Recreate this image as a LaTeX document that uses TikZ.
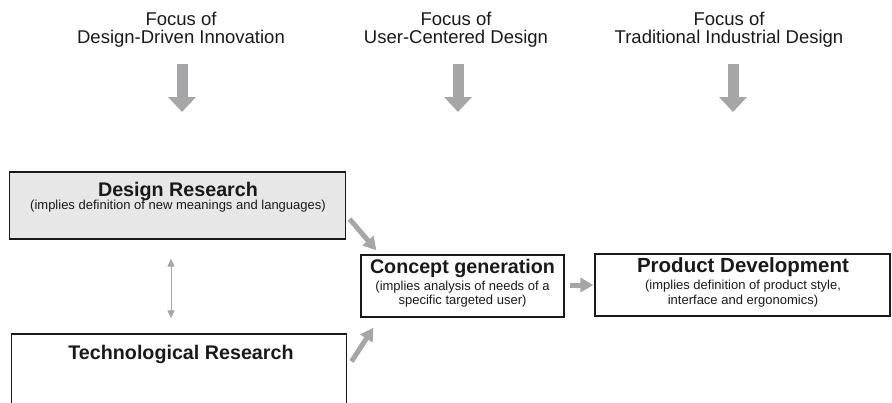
\documentclass[tikz,border=0pt]{standalone}
\usepackage{fontspec}
\setmainfont{Liberation Sans}
\usetikzlibrary{arrows.meta}
\definecolor{agray}{RGB}{166,166,168}
\definecolor{boxfill}{RGB}{231,231,231}
\definecolor{ink}{RGB}{25,25,25}
\begin{document}
\begin{tikzpicture}[x=1pt,y=-1pt,
  lab/.style={anchor=base, font=\fontsize{18.5pt}{18pt}\selectfont, text=ink, inner sep=0pt},
  ttl/.style={anchor=base, font=\fontsize{19.7pt}{20pt}\selectfont\bfseries, text=ink, inner sep=0pt},
  sub/.style={anchor=base, font=\fontsize{13pt}{14pt}\selectfont, text=ink, inner sep=0pt},
  box/.style={draw=ink, line width=1.2pt, inner sep=0pt},
  bigarrow/.style={draw=agray, line width=11pt, -{Triangle[width=27pt,length=15pt]}},
  midarrow/.style={draw=agray, line width=5pt, -{Triangle[width=14pt,length=13pt]}},
  thinarrow/.style={draw=agray, line width=1pt, {Triangle[width=7pt,length=8pt]}-{Triangle[width=7pt,length=8pt]}}
]
\useasboundingbox (0,0) rectangle (892,402);
\clip (0,0) rectangle (892,402);

% top labels
\node[lab] (l1a) at (181,25) {Focus of};
\node[lab] (l1b) at (181,43) {Design-Driven Innovation};
\node[lab] (l2a) at (456,25) {Focus of};
\node[lab] (l2b) at (456,43) {User-Centered Design};
\node[lab] (l3a) at (729,25) {Focus of};
\node[lab] (l3b) at (729,43) {Traditional Industrial Design};

% top arrows
\coordinate (a1s) at (182,64); \coordinate (a1e) at (182,112);
\coordinate (a2s) at (458,64); \coordinate (a2e) at (458,112);
\coordinate (a3s) at (733,64); \coordinate (a3e) at (733,112);
\draw[bigarrow] (a1s) -- (a1e);
\draw[bigarrow] (a2s) -- (a2e);
\draw[bigarrow] (a3s) -- (a3e);

% boxes
\node[box, fill=boxfill, minimum width=336pt, minimum height=67pt] (dr) at (177.5,205.5) {};
\node[box, minimum width=335pt, minimum height=86pt] (tech) at (179,377) {};
\node[box, minimum width=203pt, minimum height=62pt] (cg) at (462.5,286) {};
\node[box, minimum width=295pt, minimum height=62pt] (pd) at (742.5,285) {};

% texts
\node[ttl] (drT) at (178,196) {Design Research};
\node[sub] (drS) at (178,209) {(implies definition of new meanings and languages)};
\node[ttl] (techT) at (181,359) {Technological Research};
\node[ttl] (cgT) at (462.5,273) {Concept generation};
\node[sub] (cgS1) at (462.5,290) {(implies analysis of needs of a};
\node[sub] (cgS2) at (462.5,304) {specific targeted user)};
\node[ttl, font=\fontsize{20.5pt}{21pt}\selectfont\bfseries] (pdT) at (743,272) {Product Development};
\node[sub] (pdS1) at (743,289) {(implies definition of product style,};
\node[sub] (pdS2) at (743,304) {interface and ergonomics)};

% connectors
\draw[midarrow] ([shift={(3.5,13.5)}]dr.east) -- ([shift={(16,-4)}]cg.north west);
\draw[midarrow] ([shift={(4.5,28)}]tech.north east) -- ([shift={(13,10)}]cg.south west);
\draw[midarrow] ([shift={(5,-1)}]cg.east) -- ([shift={(-1,0)}]pd.west);
\draw[thinarrow] ([shift={(-6.5,19)}]dr.south) -- ([shift={(-8,-15)}]tech.north);
\end{tikzpicture}
\end{document}
